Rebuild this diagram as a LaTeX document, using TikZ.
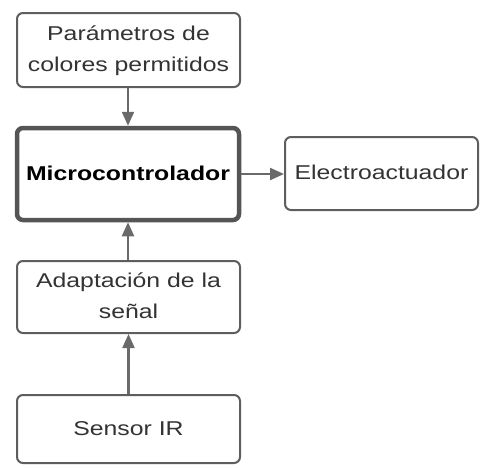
\documentclass[tikz,border=0pt]{standalone}
\usepackage{fontspec}
\usepackage{graphicx}
\setmainfont{Liberation Sans}
\usetikzlibrary{arrows.meta}
\definecolor{edge}{HTML}{5E5E5E}
\definecolor{wire}{HTML}{6A6A6A}
\definecolor{ink}{HTML}{333333}
% text is set wide: Arial-like letters stretched horizontally
\newcommand{\widetext}[1]{\scalebox{1.24}[1]{\begin{tabular}{@{}c@{}}#1\end{tabular}}}
\tikzset{
  block/.style={draw=edge, line width=2pt, rounded corners=6pt, fill=white,
    inner sep=0pt, text=ink, font=\fontsize{20}{31}\selectfont},
  mainblock/.style={block, line width=4.5pt, draw=edge!90!black, text=black,
    font=\fontsize{20}{31}\selectfont\bfseries},
  link/.style={draw=wire, line width=2.2pt, -{Triangle[length=14pt,width=12pt]}}
}
\begin{document}
\begin{tikzpicture}[x=1pt,y=-1pt]
  \useasboundingbox (0,0) rectangle (481,467);
  \node[block, minimum width=223pt, minimum height=74pt] (params) at (128.5,50)
    {\widetext{Parámetros de\\colores permitidos}};
  \node[mainblock, minimum width=222pt, minimum height=92pt] (micro) at (128,174)
    {\widetext{Microcontrolador}};
  \node[block, minimum width=193pt, minimum height=73pt] (act) at (381.5,173.5)
    {\widetext{Electroactuador}};
  \node[block, minimum width=223pt, minimum height=72pt] (adapt) at (128.5,297)
    {\widetext{Adaptación de la\\señal}};
  \node[block, minimum width=223pt, minimum height=68pt] (sensor) at (128.5,429)
    {\widetext{Sensor IR}};
  \draw[link] (params.south -| micro.north) -- (micro.north);
  \draw[link] (micro.east) -- (micro.east -| act.west);
  \draw[link] (adapt.north -| micro.south) -- (micro.south);
  \draw[link] (sensor.north -| adapt.south) -- (adapt.south);
\end{tikzpicture}
\end{document}
